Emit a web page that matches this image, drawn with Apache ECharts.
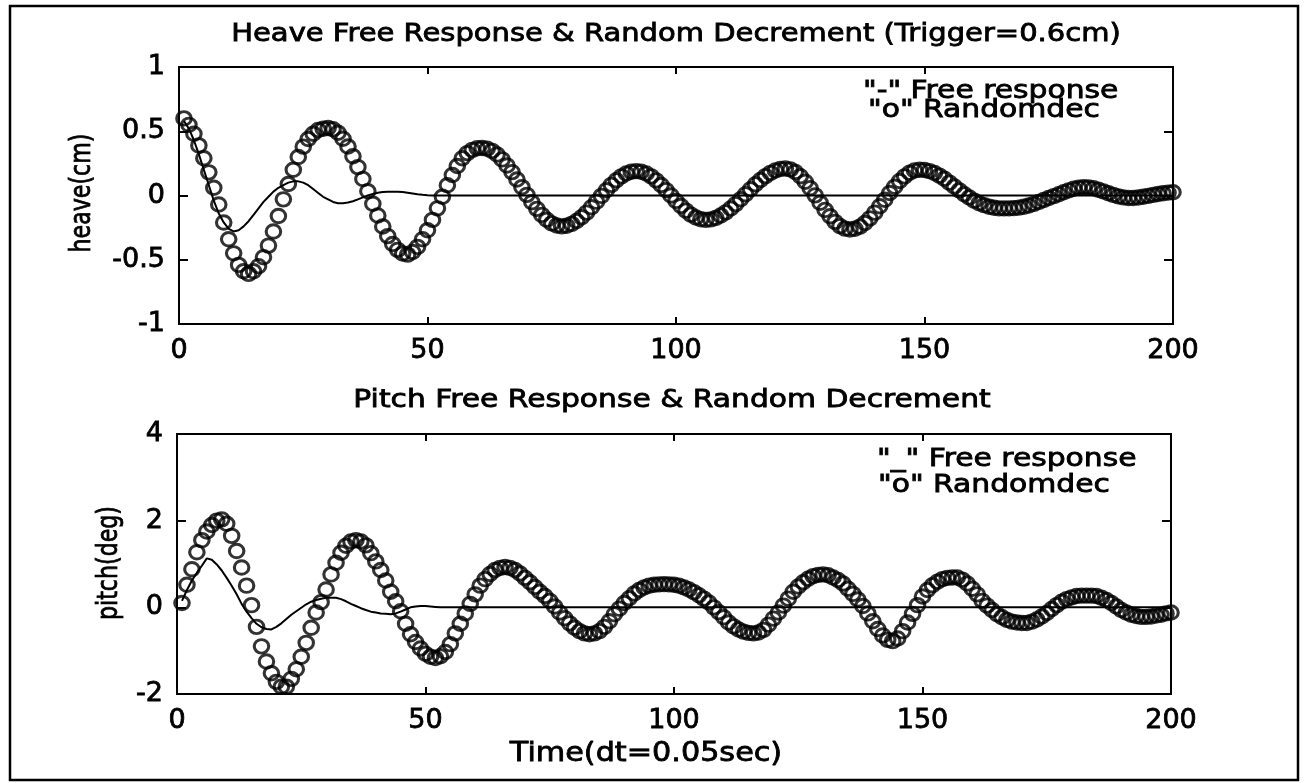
<!DOCTYPE html>
<html>
<head>
<meta charset="utf-8">
<script src="https://cdn.jsdelivr.net/npm/echarts@6/dist/echarts.min.js"></script>
<style>
  html, body { margin: 0; padding: 0; background: #fff; }
  #chart { width: 1306px; height: 783px; }
</style>
</head>
<body>
<div id="chart"></div>
<script>
// Sample index (dt = 0.05 s), samples 1..200
const sampleCount = 200;
const xTicks = [0, 50, 100, 150, 200];
const heaveTicks = [-1, -0.5, 0, 0.5, 1];
const pitchTicks = [-2, 0, 2, 4];

// Heave random decrement signature (cm), trigger level 0.6 cm
const heaveRandomdec = [
  0.60, 0.55, 0.48, 0.39, 0.29, 0.18, 0.06, -0.07, -0.21, -0.34,
  -0.45, -0.54, -0.59, -0.61, -0.59, -0.55, -0.48, -0.39, -0.28, -0.16,
  -0.03, 0.09, 0.20, 0.30, 0.38, 0.44, 0.48, 0.51, 0.52, 0.525,
  0.516, 0.488, 0.442, 0.381, 0.306, 0.221, 0.129, 0.033, -0.064, -0.156,
  -0.241, -0.316, -0.377, -0.423, -0.451, -0.46, -0.44, -0.40, -0.34, -0.27,
  -0.19, -0.10, -0.01, 0.08, 0.16, 0.23, 0.29, 0.33, 0.355, 0.368,
  0.37, 0.364, 0.347, 0.319, 0.281, 0.234, 0.182, 0.124, 0.065, 0.005,
  -0.052, -0.104, -0.151, -0.189, -0.217, -0.234, -0.24, -0.235, -0.221, -0.199,
  -0.169, -0.133, -0.091, -0.048, -0.003, 0.041, 0.083, 0.119, 0.149, 0.171,
  0.185, 0.19, 0.185, 0.171, 0.149, 0.118, 0.082, 0.042, 0.0, -0.042,
  -0.082, -0.118, -0.149, -0.171, -0.185, -0.19, -0.186, -0.175, -0.156, -0.131,
  -0.101, -0.067, -0.029, 0.01, 0.049, 0.087, 0.121, 0.151, 0.176, 0.195,
  0.206, 0.21, 0.203, 0.183, 0.15, 0.107, 0.057, 0.001, -0.056, -0.112,
  -0.162, -0.205, -0.238, -0.258, -0.265, -0.259, -0.242, -0.214, -0.178, -0.133,
  -0.084, -0.033, 0.019, 0.068, 0.113, 0.149, 0.177, 0.194, 0.2, 0.198,
  0.19, 0.175, 0.155, 0.13, 0.10, 0.07, 0.04, 0.01, -0.015, -0.04,
  -0.06, -0.075, -0.087, -0.095, -0.10, -0.10, -0.10, -0.098, -0.094, -0.088,
  -0.078, -0.065, -0.05, -0.035, -0.02, -0.005, 0.01, 0.025, 0.04, 0.052,
  0.06, 0.065, 0.063, 0.056, 0.045, 0.032, 0.018, 0.005, -0.007, -0.015,
  -0.02, -0.02, -0.016, -0.01, -0.003, 0.005, 0.012, 0.018, 0.022, 0.025
];

// Heave free response (cm)
const heaveFree = [
  0.58, 0.52, 0.43, 0.32, 0.20, 0.08, -0.04, -0.14, -0.21, -0.26,
  -0.28, -0.27, -0.24, -0.20, -0.15, -0.10, -0.05, -0.01, 0.03, 0.06,
  0.08, 0.10, 0.11, 0.11, 0.10, 0.08, 0.05, 0.02, -0.01, -0.03,
  -0.05, -0.06, -0.06, -0.055, -0.045, -0.03, -0.015, 0.0, 0.012, 0.022,
  0.028, 0.03, 0.03, 0.03, 0.027, 0.022, 0.016, 0.01, 0.005, 0.002,
  0, 0, 0, 0, 0, 0, 0, 0, 0, 0,
  0, 0, 0, 0, 0, 0, 0, 0, 0, 0,
  0, 0, 0, 0, 0, 0, 0, 0, 0, 0,
  0, 0, 0, 0, 0, 0, 0, 0, 0, 0,
  0, 0, 0, 0, 0, 0, 0, 0, 0, 0,
  0, 0, 0, 0, 0, 0, 0, 0, 0, 0,
  0, 0, 0, 0, 0, 0, 0, 0, 0, 0,
  0, 0, 0, 0, 0, 0, 0, 0, 0, 0,
  0, 0, 0, 0, 0, 0, 0, 0, 0, 0,
  0, 0, 0, 0, 0, 0, 0, 0, 0, 0,
  0, 0, 0, 0, 0, 0, 0, 0, 0, 0,
  0, 0, 0, 0, 0, 0, 0, 0, 0, 0,
  0, 0, 0, 0, 0, 0, 0, 0, 0, 0,
  0, 0, 0, 0, 0, 0, 0, 0, 0, 0,
  0, 0, 0, 0, 0, 0, 0, 0, 0, 0
];

// Pitch random decrement signature (deg)
const pitchRandomdec = [
  0.10, 0.52, 0.88, 1.27, 1.55, 1.75, 1.90, 2.00, 2.03, 1.93,
  1.65, 1.30, 0.92, 0.50, 0.05, -0.45, -0.90, -1.25, -1.52, -1.72,
  -1.83, -1.83, -1.65, -1.43, -1.14, -0.82, -0.47, -0.12, 0.12, 0.41,
  0.76, 1.03, 1.26, 1.42, 1.52, 1.55, 1.52, 1.43, 1.25, 1.06,
  0.86, 0.62, 0.36, 0.14, -0.09, -0.38, -0.62, -0.80, -0.95, -1.07,
  -1.14, -1.17, -1.13, -1.03, -0.85, -0.60, -0.38, -0.14, 0.08, 0.30,
  0.50, 0.65, 0.77, 0.86, 0.91, 0.93, 0.91, 0.86, 0.78, 0.68,
  0.58, 0.47, 0.36, 0.26, 0.15, 0.02, -0.12, -0.25, -0.37, -0.47,
  -0.55, -0.60, -0.62, -0.60, -0.55, -0.45, -0.32, -0.16, -0.03, 0.10,
  0.21, 0.32, 0.40, 0.46, 0.50, 0.52, 0.53, 0.535, 0.53, 0.52,
  0.50, 0.46, 0.41, 0.35, 0.28, 0.20, 0.11, 0.00, -0.11, -0.23,
  -0.35, -0.44, -0.51, -0.56, -0.59, -0.60, -0.58, -0.52, -0.40, -0.26,
  -0.12, 0.04, 0.20, 0.36, 0.48, 0.58, 0.66, 0.72, 0.75, 0.76,
  0.74, 0.69, 0.63, 0.55, 0.43, 0.31, 0.18, 0.03, -0.14, -0.32,
  -0.50, -0.65, -0.75, -0.78, -0.72, -0.55, -0.35, -0.15, 0.05, 0.25,
  0.40, 0.51, 0.59, 0.65, 0.68, 0.69, 0.69, 0.64, 0.55, 0.43,
  0.30, 0.15, 0.04, -0.06, -0.16, -0.23, -0.29, -0.33, -0.35, -0.36,
  -0.36, -0.33, -0.28, -0.21, -0.13, -0.04, 0.05, 0.13, 0.19, 0.23,
  0.26, 0.27, 0.27, 0.27, 0.26, 0.22, 0.17, 0.10, 0.02, -0.06,
  -0.12, -0.17, -0.20, -0.22, -0.22, -0.21, -0.19, -0.17, -0.14, -0.12
];

// Pitch free response (deg)
const pitchFree = [
  0.15, 0.40, 0.62, 0.80, 0.96, 1.13, 1.10, 0.99, 0.85, 0.68,
  0.50, 0.30, 0.08, -0.10, -0.25, -0.38, -0.46, -0.50, -0.51, -0.45,
  -0.37, -0.27, -0.17, -0.09, -0.01, 0.07, 0.13, 0.17, 0.20, 0.22,
  0.22, 0.22, 0.19, 0.14, 0.08, 0.03, -0.02, -0.06, -0.10, -0.12,
  -0.14, -0.15, -0.16, -0.14, -0.10, -0.05, 0.00, 0.02, 0.03, 0.03,
  0.02, 0.01, 0, 0, 0, 0, 0, 0, 0, 0,
  0, 0, 0, 0, 0, 0, 0, 0, 0, 0,
  0, 0, 0, 0, 0, 0, 0, 0, 0, 0,
  0, 0, 0, 0, 0, 0, 0, 0, 0, 0,
  0, 0, 0, 0, 0, 0, 0, 0, 0, 0,
  0, 0, 0, 0, 0, 0, 0, 0, 0, 0,
  0, 0, 0, 0, 0, 0, 0, 0, 0, 0,
  0, 0, 0, 0, 0, 0, 0, 0, 0, 0,
  0, 0, 0, 0, 0, 0, 0, 0, 0, 0,
  0, 0, 0, 0, 0, 0, 0, 0, 0, 0,
  0, 0, 0, 0, 0, 0, 0, 0, 0, 0,
  0, 0, 0, 0, 0, 0, 0, 0, 0, 0,
  0, 0, 0, 0, 0, 0, 0, 0, 0, 0,
  0, 0, 0, 0, 0, 0, 0, 0, 0, 0,
  0, 0, 0, 0, 0, 0, 0, 0, 0, 0
];

const FONT = 'DejaVu Sans';
const BLACK = '#000';
const INK = 0.8; // extra outline so glyphs print as heavily as the rest

const samples = Array.from({ length: sampleCount }, (_, i) => i + 1);
const pairs = (vals) => samples.map((s, i) => [s, vals[i]]);

function xAxisFor(gridIndex, position) {
  const isBottom = position === 'bottom';
  return {
    type: 'value', gridIndex, position,
    min: xTicks[0], max: xTicks[xTicks.length - 1], interval: xTicks[1] - xTicks[0],
    axisLine: { show: true, onZero: false, lineStyle: { color: BLACK, width: 2 } },
    axisTick: { show: true, inside: true, length: 7, lineStyle: { color: BLACK, width: 2 } },
    axisLabel: { show: isBottom, fontFamily: FONT, fontSize: 27, color: BLACK, margin: 13,
                 textBorderColor: BLACK, textBorderWidth: INK,
                 showMinLabel: true, showMaxLabel: true },
    splitLine: { show: false }
  };
}

function yAxisFor(gridIndex, position, ticks) {
  const isLeft = position === 'left';
  return {
    type: 'value', gridIndex, position,
    min: ticks[0], max: ticks[ticks.length - 1], interval: ticks[1] - ticks[0],
    axisLine: { show: true, onZero: false, lineStyle: { color: BLACK, width: 2 } },
    axisTick: { show: true, inside: true, length: 9, lineStyle: { color: BLACK, width: 2 } },
    axisLabel: { show: isLeft, fontFamily: FONT, fontSize: 27, color: BLACK, margin: 14,
                 textBorderColor: BLACK, textBorderWidth: INK,
                 showMinLabel: true, showMaxLabel: true },
    splitLine: { show: false }
  };
}

function circles(vals, xi, yi) {
  return {
    type: 'scatter', xAxisIndex: xi, yAxisIndex: yi,
    data: pairs(vals),
    symbol: 'circle', symbolSize: [14.5, 13.5],
    itemStyle: { color: 'rgba(0,0,0,0)', borderColor: BLACK, borderWidth: 3 },
    clip: false, silent: true, z: 2
  };
}

function trace(vals, xi, yi) {
  return {
    type: 'line', xAxisIndex: xi, yAxisIndex: yi,
    data: pairs(vals),
    symbol: 'none', showSymbol: false,
    lineStyle: { color: BLACK, width: 2 },
    clip: true, silent: true, z: 3
  };
}

function label(text, x, y, size, sx, align, rot) {
  return {
    type: 'text', x, y, scaleX: sx, rotation: rot || 0, silent: true,
    style: {
      text, fontFamily: FONT, fontSize: size, fill: BLACK,
      stroke: BLACK, lineWidth: INK,
      textAlign: align, align: align,
      textVerticalAlign: 'middle', verticalAlign: 'middle'
    }
  };
}

const option = {
  animation: false,
  backgroundColor: '#fff',
  grid: [
    { left: 179, top: 67, width: 994, height: 257, show: true, borderColor: BLACK, borderWidth: 2,
      backgroundColor: 'transparent', containLabel: false, outerBoundsMode: 'none' },
    { left: 177, top: 434, width: 994, height: 260, show: true, borderColor: BLACK, borderWidth: 2,
      backgroundColor: 'transparent', containLabel: false, outerBoundsMode: 'none' }
  ],
  xAxis: [
    xAxisFor(0, 'bottom'), xAxisFor(0, 'top'),
    xAxisFor(1, 'bottom'), xAxisFor(1, 'top')
  ],
  yAxis: [
    yAxisFor(0, 'left', heaveTicks), yAxisFor(0, 'right', heaveTicks),
    yAxisFor(1, 'left', pitchTicks), yAxisFor(1, 'right', pitchTicks)
  ],
  series: [
    circles(heaveRandomdec, 0, 0),
    trace(heaveFree, 0, 0),
    circles(pitchRandomdec, 2, 2),
    trace(pitchFree, 2, 2)
  ],
  graphic: [
    { type: 'rect', silent: true, shape: { x: 10, y: 6, width: 1288, height: 774 },
      style: { fill: 'none', stroke: BLACK, lineWidth: 2.5 } },
    label('Heave Free Response & Random Decrement (Trigger=0.6cm)', 676, 34, 25, 1.16, 'center'),
    label('Pitch Free Response & Random Decrement', 672, 400, 25, 1.19, 'center'),
    label('Time(dt=0.05sec)', 646, 754, 27, 1.12, 'center'),
    label('heave(cm)', 83, 193, 28, 0.79, 'center', Math.PI / 2),
    label('pitch(deg)', 110, 563, 28, 0.79, 'center', Math.PI / 2),
    label('"-" Free response', 863, 92, 24, 1.24, 'left'),
    label('"o" Randomdec', 868, 111, 24, 1.24, 'left'),
    label('"_" Free response', 877, 460, 24, 1.24, 'left'),
    label('"o" Randomdec', 878, 486, 24, 1.24, 'left')
  ]
};

const chart = echarts.init(document.getElementById('chart'), null, { renderer: 'canvas' });
chart.setOption(option);
</script>
</body>
</html>
